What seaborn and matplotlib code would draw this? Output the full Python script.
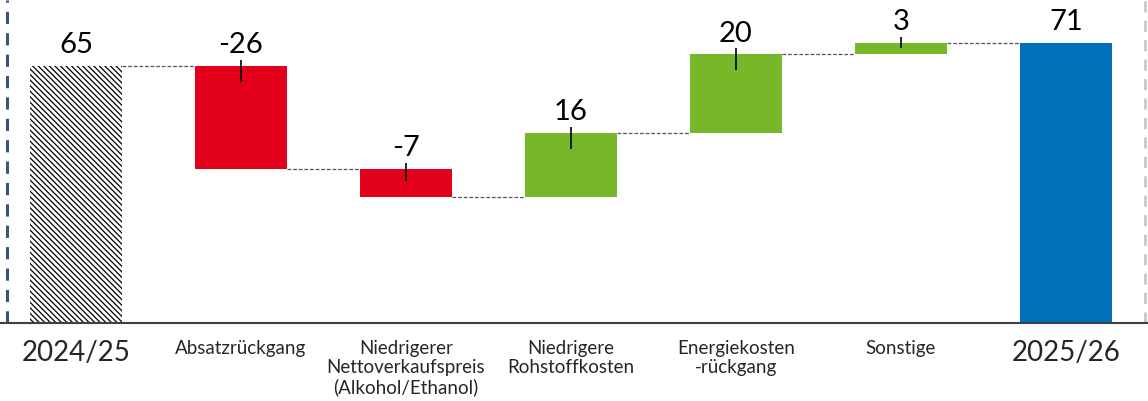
import numpy as np
import pandas as pd
import seaborn as sns
import matplotlib.pyplot as plt

# data
categories = ["2024/25", "Absatzrückgang", "Niedrigerer\nNettoverkaufspreis\n(Alkohol/Ethanol)",
              "Niedrigere\nRohstoffkosten", "Energiekosten\n-rückgang", "Sonstige", "2025/26"]
start_value = 65
changes = [-26, -7, 16, 20, 3]
end_value = 71
bar_colors = ["white", "#E2001A", "#E2001A", "#76B82A", "#76B82A", "#76B82A", "#0070BA"]

# waterfall geometry from the values
levels = np.cumsum([start_value] + changes)          # level after each step
bottoms = [0] + [min(levels[i], levels[i + 1]) for i in range(len(changes))] + [0]
heights = [start_value] + [abs(c) for c in changes] + [end_value]
tops = [b + h for b, h in zip(bottoms, heights)]
labels = [str(start_value)] + [str(c) for c in changes] + [str(end_value)]

df = pd.DataFrame({"cat": categories, "h": heights, "bottom": bottoms})

sns.set_style("white")
plt.rcParams["font.family"] = ["Lato", "DejaVu Sans"]
plt.rcParams["hatch.linewidth"] = 0.9

fig = plt.figure(figsize=(11.48, 4.01), dpi=100)
ax = fig.add_axes([0, 78 / 401, 1, 323 / 401])

sns.barplot(data=df, x="cat", y="h", bottom=df["bottom"].values, width=0.56,
            color="white", ax=ax)

for i, p in enumerate(ax.patches):
    p.set_facecolor(bar_colors[i])
    p.set_edgecolor("none")
    p.set_linewidth(0)
ax.patches[0].set_hatch("\\\\\\\\\\\\")
ax.patches[0].set_edgecolor("black")

# connectors
w = 0.56
for i in range(len(categories) - 1):
    lvl = levels[i] if i < len(levels) else end_value
    ax.plot([i + w / 2, i + 1 - w / 2], [lvl, lvl], ls=(0, (3, 1.5)), color="#555555", lw=0.9)

# value labels and little tick marks
for i, (t, b, lab) in enumerate(zip(tops, bottoms, labels)):
    ax.text(i, t + 2.0, lab, ha="center", va="bottom", fontsize=21, color="black")
    if 0 < i < len(categories) - 1:
        ax.vlines(i, t - min(4, (t - b) * 0.45), t + 1.5, color="black", lw=1.2)

# frame lines
ax.axvline(-0.418, color="#3B5573", lw=2.2, ls=(0, (4, 3)))
ax.axvline(6.479, color="#C8C8C8", lw=2, ls=(0, (4, 3)))

ax.set_xlim(-76 / 165, (1148 - 76) / 165)
ax.set_ylim(0, 323 / 3.95)
ax.set_yticks([])
ax.set_xlabel(None)
ax.set_ylabel(None)
ax.tick_params(axis="x", length=0, pad=12)
ax.set_xticks(range(len(categories)))
ax.set_xticklabels(categories, va="top", ha="center", linespacing=1.15)
for i, tl in enumerate(ax.get_xticklabels()):
    tl.set_fontsize(20 if i in (0, len(categories) - 1) else 13.5)
for s in ["top", "left", "right"]:
    ax.spines[s].set_visible(False)
ax.spines["bottom"].set_color("#404040")
ax.spines["bottom"].set_linewidth(1.5)

fig.savefig("out.png", dpi=100)
